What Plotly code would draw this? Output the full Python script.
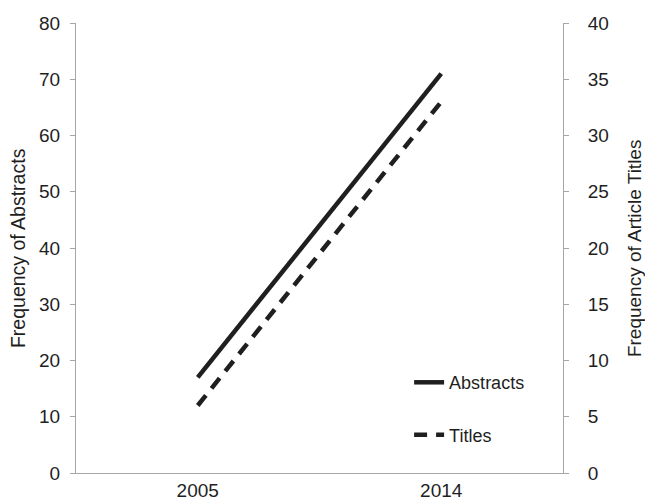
import plotly.graph_objects as go

years = ["2005", "2014"]
abstracts = [17, 71]
titles = [6, 33]

font = "Liberation Sans, Arial, sans-serif"
axis_color = "#a6a6a6"
ink = "#1f1f1f"

fig = go.Figure()
fig.add_trace(go.Scatter(x=years, y=abstracts, name="Abstracts", mode="lines",
                         line=dict(color=ink, width=4.5), legendgroup="a"))
fig.add_trace(go.Scatter(x=years, y=titles, name="Titles", mode="lines", yaxis="y2",
                         line=dict(color=ink, width=4.5, dash="13px,9px"), legendgroup="b"))

fig.update_layout(
    width=645, height=503,
    margin=dict(l=76, r=82, t=23, b=30, autoexpand=False),
    paper_bgcolor="white", plot_bgcolor="white",
    font=dict(family=font, size=19, color=ink),
    xaxis=dict(type="category", range=[-0.5, 1.5], showline=True, linecolor=axis_color,
               linewidth=1, ticks="", showgrid=False, zeroline=False, automargin=False,
               tickfont=dict(size=19)),
    yaxis=dict(range=[0, 80], dtick=10, showline=True, linecolor=axis_color, linewidth=1,
               ticks="outside", tickcolor=axis_color, ticklen=5, showgrid=False,
               zeroline=False, automargin=False, ticklabelstandoff=6),
    yaxis2=dict(range=[0, 40], dtick=5, overlaying="y", side="right", showline=True,
                linecolor=axis_color, linewidth=1, ticks="outside", tickcolor=axis_color,
                ticklen=5, showgrid=False, zeroline=False, automargin=False,
                ticklabelstandoff=15),
    legend=dict(x=0.684, y=0.242, xanchor="left", yanchor="top", bgcolor="rgba(0,0,0,0)",
                tracegroupgap=26, font=dict(size=18)),
    showlegend=True,
    annotations=[
        dict(text="Frequency of Abstracts", xref="paper", yref="paper",
             x=-0.119, y=0.5, xanchor="center", yanchor="middle", textangle=-90,
             showarrow=False, font=dict(size=19.5)),
        dict(text="Frequency of Article Titles", xref="paper", yref="paper",
             x=1.146, y=0.5, xanchor="center", yanchor="middle", textangle=-90,
             showarrow=False, font=dict(size=19)),
    ],
)

fig.write_html("out.html", post_script="document.body.style.margin='0';",
               config={"displayModeBar": False})
